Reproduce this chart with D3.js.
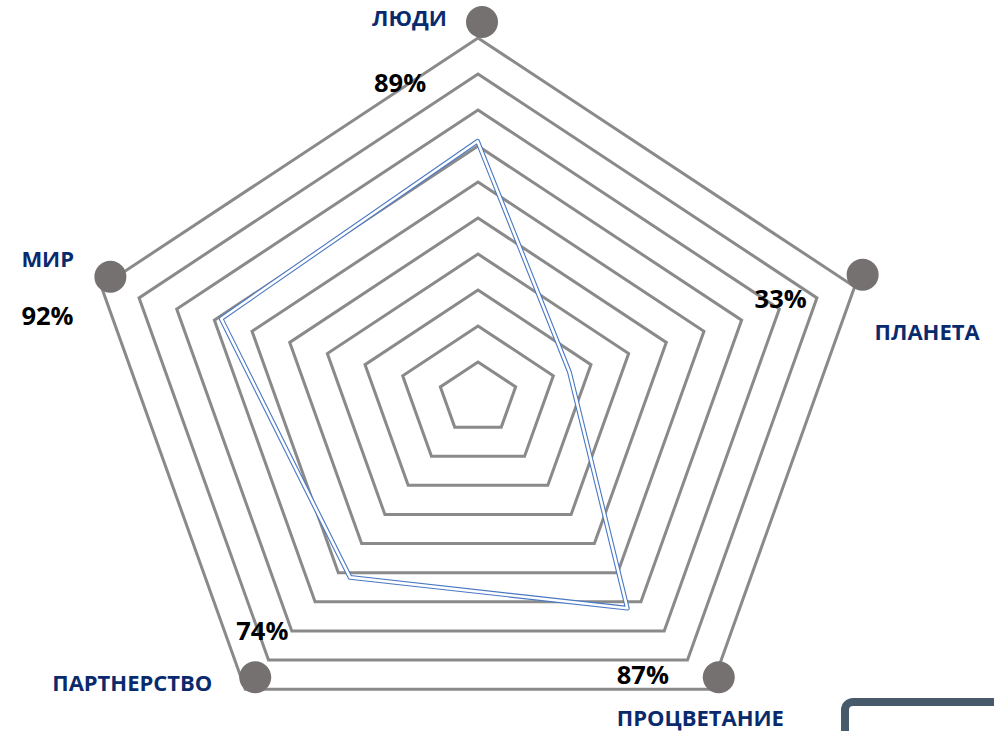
<!DOCTYPE html>
<html>
<head>
<meta charset="utf-8">
<script src="https://cdn.jsdelivr.net/npm/d3@7"></script>
<style>
  html, body { margin: 0; padding: 0; background: #fff; }
  svg { display: block; }
  text { font-family: "Open Sans", "DejaVu Sans", sans-serif; font-weight: 700; }
</style>
</head>
<body>
<svg id="chart" width="994" height="731"></svg>
<script>
// ---- data ----
const categories = ["ЛЮДИ", "ПЛАНЕТА", "ПРОЦВЕТАНИЕ", "ПАРТНЕРСТВО", "МИР"];
const values = [0.89, 0.33, 0.87, 0.74, 0.92];
const valueLabels = ["89%", "33%", "87%", "74%", "92%"];
const ringLevels = [1, 2, 3, 4, 5, 6, 7, 8, 9, 10];

// ---- layout ----
const svg = d3.select("#chart");
const n = categories.length;
const angle = d3.scaleLinear().domain([0, n]).range([0, 2 * Math.PI]);

// grid (slightly stretched horizontally)
const grid = { cx: 478, cy: 398, sx: 1.10 };
const gridR = d3.scaleLinear().domain([0, 10]).range([0, 360]);
// data series (own radar frame)
const series = { cx: 477.5, cy: 402, sx: 1.0 };
const valR = d3.scaleLinear().domain([0, 1]).range([0, 293]);

function pt(frame, r, i) {
  const a = angle(i);
  return [frame.cx + frame.sx * r * Math.sin(a), frame.cy - r * Math.cos(a)];
}

// rings
const ringLine = d3.line().curve(d3.curveLinearClosed);
svg.append("g").selectAll("path").data(ringLevels).join("path")
  .attr("d", lv => ringLine(d3.range(n).map(i => pt(grid, gridR(lv), i))))
  .attr("fill", "none")
  .attr("stroke", "#8a8a8a")
  .attr("stroke-width", 3)
  .attr("stroke-linejoin", "miter");

// series polygon (double line)
const seriesPts = values.map((v, i) => pt(series, valR(v), i));
const sg = svg.append("g");
sg.append("path").attr("d", ringLine(seriesPts))
  .attr("fill", "none").attr("stroke", "#4a78c4").attr("stroke-width", 4.8)
  .attr("stroke-linejoin", "round");
sg.append("path").attr("d", ringLine(seriesPts))
  .attr("fill", "none").attr("stroke", "#ffffff").attr("stroke-width", 2.6)
  .attr("stroke-linejoin", "round");

// vertex markers (offset up-right of the outer vertices)
const outer = d3.range(n).map(i => pt(grid, gridR(10), i));
const markerOff = [[4, -16], [8, -12], [8, -12], [10, -12], [9, -10]];
svg.append("g").selectAll("circle").data(outer).join("circle")
  .attr("cx", (d, i) => d[0] + markerOff[i][0])
  .attr("cy", (d, i) => d[1] + markerOff[i][1])
  .attr("r", 16)
  .attr("fill", "#767171");

// labels: offsets from outer vertices
const nameOff = [[-106, -12], [20, 53], [-94, 37], [-193, 2], [-80, -20]];
const valOff = [[-104, 54], [-100, 21], [-94, -5], [-9, -49], [-80, 38]];

svg.append("g").selectAll("text").data(categories).join("text")
  .attr("x", (d, i) => outer[i][0] + nameOff[i][0])
  .attr("y", (d, i) => outer[i][1] + nameOff[i][1])
  .attr("fill", "#0a2a6e")
  .attr("font-size", 22)
  .text(d => d);

svg.append("g").selectAll("text").data(valueLabels).join("text")
  .attr("x", (d, i) => outer[i][0] + valOff[i][0])
  .attr("y", (d, i) => outer[i][1] + valOff[i][1])
  .attr("fill", "#000")
  .attr("font-size", 25.5)
  .text(d => d);

// partial frame at bottom-right
svg.append("rect")
  .attr("x", 845).attr("y", 702)
  .attr("width", 200).attr("height", 100)
  .attr("rx", 8).attr("ry", 8)
  .attr("fill", "#fff")
  .attr("stroke", "#475a6b")
  .attr("stroke-width", 8);
</script>
</body>
</html>
